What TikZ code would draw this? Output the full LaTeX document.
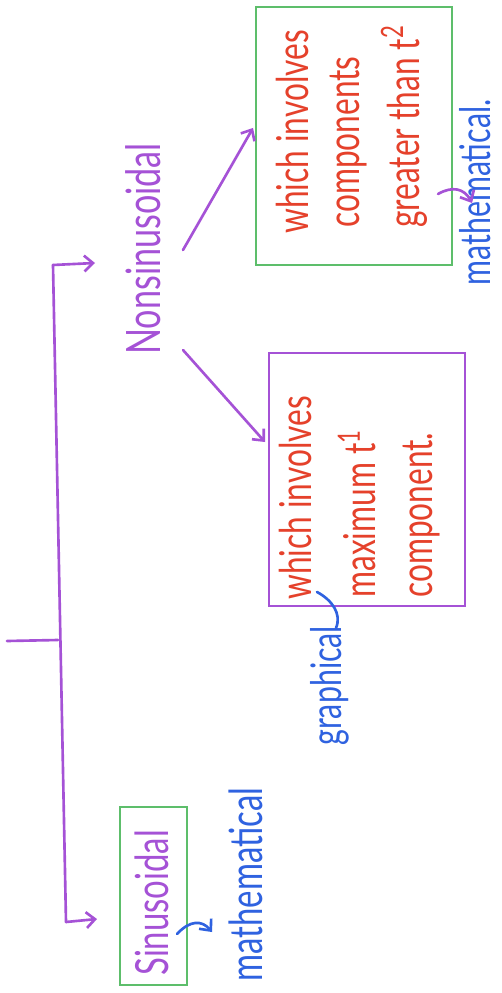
\documentclass[tikz,border=0pt]{standalone}
\usepackage{fontspec}
\setmainfont{Lato}[FakeStretch=0.72]
\usetikzlibrary{arrows.meta}
\definecolor{pur}{HTML}{A552D6}
\definecolor{grn}{HTML}{5DBE6B}
\definecolor{rd}{HTML}{E5412B}
\definecolor{blu}{HTML}{2F62E0}
\tikzset{
  ln/.style={line width=1.5pt, line cap=round, line join=round},
  hd/.style={-{Straight Barb[length=5pt,width=9pt,line width=1.5pt]}},
  box/.style={draw, line width=1.6pt, inner sep=0pt},
  rtxt/.style={rotate=90, anchor=west, inner sep=0pt},
}
\begin{document}
\begin{tikzpicture}[x=0.02cm,y=-0.02cm]
\useasboundingbox (0,0) rectangle (501,993);
\fill[white] (0,0) rectangle (501,993);

% boxes
\node[box, draw=grn, minimum width=3.92cm, minimum height=5.16cm] (gbox) at (354,136) {};
\node[box, draw=pur, minimum width=3.92cm, minimum height=5.06cm] (pbox) at (367,479.5) {};
\node[box, draw=grn, minimum width=1.34cm, minimum height=3.56cm] (sbox) at (153.5,896) {};

% texts
\node[rtxt, text=pur, font=\fontsize{27}{29}\selectfont] (ns) at (143,355) {Nonsinusoidal};
\node[rtxt, text=pur, font=\fontsize{26}{28}\selectfont] (sin) at (152,976) {Sinusoidal};
\node[rtxt, text=blu, font=\fontsize{26}{28}\selectfont] (m1) at (246,982) {mathematical};
\node[rtxt, text=blu, font=\fontsize{24}{26}\selectfont] (m2) at (475,286) {mathematical.};
\node[rtxt, text=blu, font=\fontsize{24}{26}\selectfont] (gr) at (330,746) {graphical};

\node[rtxt, text=rd, font=\fontsize{25}{27}\selectfont] (g1) at (292,234) {which involves};
\node[rtxt, text=rd, font=\fontsize{25}{27}\selectfont] (g2) at (349,228) {components};
\node[rtxt, text=rd, font=\fontsize{25}{27}\selectfont] (g3) at (404,228) {greater than t\textsuperscript{2}};

\node[rtxt, text=rd, font=\fontsize{25}{27}\selectfont] (p1) at (295,600) {which involves};
\node[rtxt, text=rd, font=\fontsize{25}{27}\selectfont] (p2) at (357,598) {maximum t\textsuperscript{1}};
\node[rtxt, text=rd, font=\fontsize{25}{27}\selectfont] (p3) at (422,598) {component.};

% tree
\coordinate (tk) at (7,641);
\coordinate (jn) at (58,640);
\coordinate (top) at (53,265);
\coordinate (bot) at (66,922);
\coordinate (ta) at (95,263);
\coordinate (ba) at (97,919);
\draw[ln, pur] (tk) -- (jn);
\draw[ln, pur] (top) -- (bot);
\draw[ln, pur, hd] (top) -- (ta);
\draw[ln, pur, hd] (bot) -- (ba);

\coordinate (n1) at (183,250);
\coordinate (n2) at (183,350);
\coordinate (ga) at (253,128);
\coordinate (pa) at (265,442);
\draw[ln, pur, hd] (n1) -- (ga);
\draw[ln, pur, hd] (n2) -- (pa);

% curved pointers
\coordinate (c1) at (177,934);
\coordinate (c1e) at (212,932);
\draw[ln, blu, hd] (c1) .. controls (190,920) and (202,920) .. (c1e);
\coordinate (c2) at (438,194);
\coordinate (c2e) at (472,203);
\draw[ln, pur, hd] (c2) .. controls (452,186) and (464,188) .. (c2e);
\coordinate (c3) at (317,592);
\coordinate (c3e) at (336,628);
\draw[ln, blu] (c3) .. controls (332,600) and (342,614) .. (c3e);
\end{tikzpicture}
\end{document}
